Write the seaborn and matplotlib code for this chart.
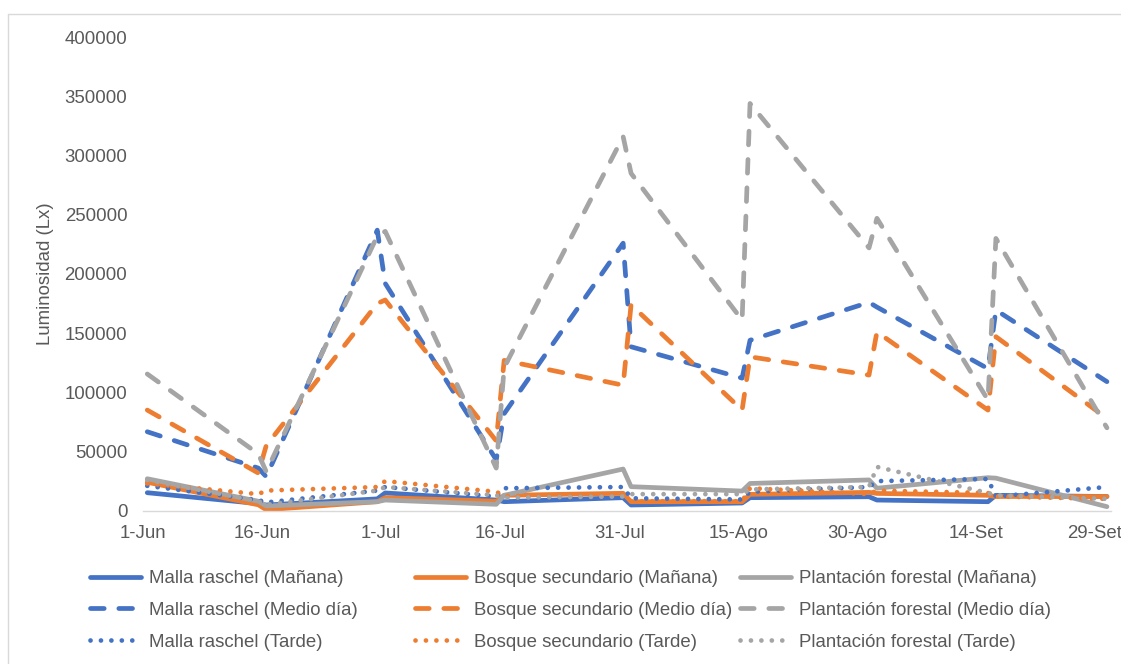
import matplotlib
matplotlib.use("Agg")
import matplotlib.pyplot as plt
from matplotlib.lines import Line2D
import seaborn as sns
import pandas as pd

# ---------------- data ----------------
dates = ["2019-06-01", "2019-06-15", "2019-06-16", "2019-06-30", "2019-07-01",
         "2019-07-15", "2019-07-16", "2019-07-31", "2019-08-01", "2019-08-15",
         "2019-08-16", "2019-08-31", "2019-09-01", "2019-09-15", "2019-09-16",
         "2019-09-30"]

mr_manana = [15200, 6000, 4800, 10000, 15000, 9000, 7600, 11000, 4800, 6500,
             11000, 11800, 9000, 7600, 13000, 12000]
bs_manana = [24000, 5000, 800, 7600, 11000, 8000, 13000, 14700, 7600, 7600,
             13800, 15500, 14600, 13000, 12000, 12000]
pf_manana = [27000, 8000, 4000, 7600, 9000, 5400, 13000, 35200, 20300, 16600,
             23000, 26000, 19000, 27900, 27500, 3400]

mr_medio = [66700, 36000, 28700, 237000, 192000, 43000, 82000, 226000, 138500,
            112000, 144000, 176000, 172000, 120000, 169500, 109000]
bs_medio = [85000, 31800, 55000, 175000, 178000, 59000, 127000, 106000, 174000,
            85000, 130000, 114600, 151000, 85000, 147000, 78000]
pf_medio = [115500, 48000, 33000, 232000, 236000, 36000, 121000, 316000, 285000,
            161000, 344000, 222000, 247000, 93500, 230000, 70000]

mr_tarde = [21000, 9000, 7000, 17000, 20000, 12000, 19000, 20000, 10500, 9500,
            16000, 20000, 25000, 26800, 12000, 20000]
bs_tarde = [23000, 14000, 17000, 20000, 25000, 16000, 12500, 12500, 8000, 8000,
            19000, 14000, 17000, 15000, 12000, 10000]
pf_tarde = [26000, 8000, 5000, 17000, 20000, 13000, 11000, 12000, 14000, 14000,
            18000, 20000, 37000, 15000, 13000, 10000]

sites = ["Malla raschel", "Bosque secundario", "Plantación forestal"]
times = ["Mañana", "Medio día", "Tarde"]

tick_dates = ["2019-06-01", "2019-06-16", "2019-07-01", "2019-07-16", "2019-07-31",
              "2019-08-15", "2019-08-30", "2019-09-14", "2019-09-29"]
tick_labels = ["1-Jun", "16-Jun", "1-Jul", "16-Jul", "31-Jul", "15-Ago", "30-Ago",
               "14-Set", "29-Set"]
y_ticks = [0, 50000, 100000, 150000, 200000, 250000, 300000, 350000, 400000]

# ---------------- style ----------------
sns.set_style("white")
plt.rcParams["font.family"] = ["Liberation Sans", "DejaVu Sans"]
plt.rcParams["lines.dash_capstyle"] = "round"
plt.rcParams["lines.solid_capstyle"] = "round"
plt.rcParams["lines.dash_joinstyle"] = "round"
plt.rcParams["lines.solid_joinstyle"] = "round"

site_colors = {"Malla raschel": "#4472C4",
               "Bosque secundario": "#ED7D31",
               "Plantación forestal": "#A5A5A5"}
time_styles = {"Mañana": "-",
               "Medio día": (0, (2.9, 3.1)),
               "Tarde": (0, (0.01, 2.2))}
LW = 3.4
TXT = "#595959"
FS = 13.4

series = {
    ("Malla raschel", "Mañana"): mr_manana,
    ("Bosque secundario", "Mañana"): bs_manana,
    ("Plantación forestal", "Mañana"): pf_manana,
    ("Malla raschel", "Medio día"): mr_medio,
    ("Bosque secundario", "Medio día"): bs_medio,
    ("Plantación forestal", "Medio día"): pf_medio,
    ("Malla raschel", "Tarde"): mr_tarde,
    ("Bosque secundario", "Tarde"): bs_tarde,
    ("Plantación forestal", "Tarde"): pf_tarde,
}

W, H = 1121, 664
fig = plt.figure(figsize=(W / 100, H / 100), dpi=100)
ax_left, ax_right, ax_top, ax_bot = 143.3, 1110.9, 37.2, 510.7
ax = fig.add_axes([ax_left / W, 1 - ax_bot / H, (ax_right - ax_left) / W,
                   (ax_bot - ax_top) / H])

# Excel "between tick marks": points sit in the middle of each day
x_dates = pd.to_datetime(dates) + pd.Timedelta(hours=12)

for (site, tm), vals in series.items():
    sns.lineplot(x=x_dates, y=vals, ax=ax, color=site_colors[site],
                 linewidth=LW, linestyle=time_styles[tm],
                 estimator=None, sort=False, legend=False)

ax.set_xlim(pd.Timestamp("2019-06-01"), pd.Timestamp("2019-10-01"))
ax.set_ylim(0, 400000)
ax.set_xticks(pd.to_datetime(tick_dates))
ax.set_xticklabels(tick_labels)
ax.set_yticks(y_ticks)
ax.set_yticklabels([str(v) for v in y_ticks])
ax.set_xlabel("")
ax.set_ylabel("")
ax.grid(False)

for s in ["left", "right", "top"]:
    ax.spines[s].set_visible(False)
ax.spines["bottom"].set_color("#D9D9D9")
ax.spines["bottom"].set_linewidth(1.0)
ax.tick_params(axis="x", length=3.6, width=0.9, color="#D9D9D9", pad=6.5,
               labelsize=FS, labelcolor=TXT, direction="out")
ax.tick_params(axis="y", length=0, pad=11.5, labelsize=FS, labelcolor=TXT)

fig.text(46 / W, 1 - 274 / H, "Luminosidad (Lx)", rotation=90, ha="center",
         va="center", fontsize=FS, color=TXT)

# chart-area border (left and top visible; the rest is cropped)
fig.add_artist(Line2D([8 / W, 8 / W], [0, 1 - 14 / H], transform=fig.transFigure,
                      color="#D9D9D9", linewidth=1.0))
fig.add_artist(Line2D([8 / W, 1.0], [1 - 14 / H, 1 - 14 / H],
                      transform=fig.transFigure, color="#D9D9D9", linewidth=1.0))

# legend: three equally spaced columns like Excel
col_x = [90, 415, 740]
for site, cx in zip(sites, col_x):
    handles = [Line2D([], [], color=site_colors[site], linewidth=LW,
                      linestyle=time_styles[tm]) for tm in times]
    labels = [f"{site} ({tm})" for tm in times]
    fig.legend(handles, labels, loc="upper left",
               bbox_to_anchor=(cx / W, 1 - 570 / H), frameon=False,
               borderpad=0, borderaxespad=0, handlelength=2.75,
               handletextpad=0.4, labelspacing=0.8, fontsize=FS,
               labelcolor=TXT)

fig.savefig("out.png", dpi=100)
